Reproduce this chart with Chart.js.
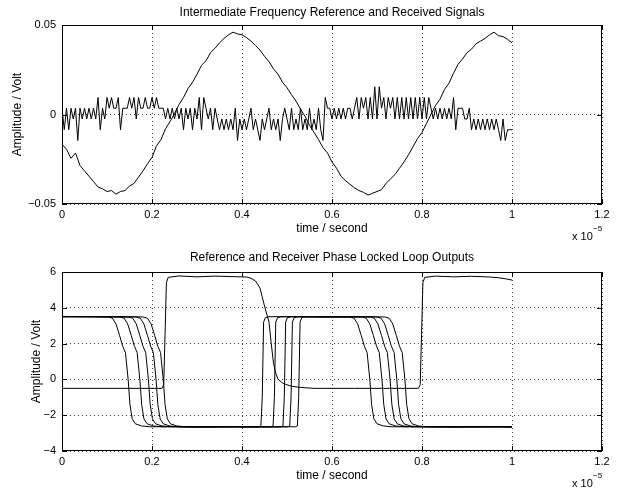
<!DOCTYPE html>
<html>
<head>
<meta charset="utf-8">
<script src="https://cdn.jsdelivr.net/npm/chart.js@4/dist/chart.umd.min.js"></script>
<style>
  html, body { margin: 0; padding: 0; background: #fff; }
  canvas { display: block; }
</style>
</head>
<body>
<canvas id="ifChart" width="623" height="246"></canvas>
<canvas id="pllChart" width="623" height="245"></canvas>
<script>
// all times are in units of 1e-5 s

// IF reference, sampled every 0.01
const ifStep = 0.01;
const ifRef = [
  -0.0165, -0.0195, -0.0245, -0.0215, -0.0285, -0.0315, -0.0345, -0.0375, -0.0405, -0.0415,
  -0.0430, -0.0425, -0.0445, -0.0430, -0.0425, -0.0400, -0.0385, -0.0350, -0.0315, -0.0275,
  -0.0240, -0.0175, -0.0140, -0.0080, -0.0040, 0.0005, 0.0055, 0.0095, 0.0145, 0.0180,
  0.0225, 0.0275, 0.0300, 0.0345, 0.0370, 0.0400, 0.0425, 0.0445, 0.0460, 0.0450,
  0.0445, 0.0430, 0.0410, 0.0385, 0.0360, 0.0325, 0.0295, 0.0255, 0.0225, 0.0180,
  0.0150, 0.0110, 0.0075, 0.0030, -0.0010, -0.0060, -0.0100, -0.0140, -0.0185, -0.0215,
  -0.0265, -0.0300, -0.0345, -0.0370, -0.0390, -0.0410, -0.0425, -0.0435, -0.0450, -0.0440,
  -0.0430, -0.0420, -0.0385, -0.0360, -0.0335, -0.0300, -0.0265, -0.0225, -0.0180, -0.0135,
  -0.0100, -0.0050, 0.0000, 0.0050, 0.0085, 0.0140, 0.0175, 0.0230, 0.0280, 0.0310,
  0.0345, 0.0365, 0.0395, 0.0410, 0.0425, 0.0445, 0.0460, 0.0440, 0.0435, 0.0420,
  0.0400
];

// received (quantised) signal, sampled every 0.005
const rxStep = 0.005;
const ifRx = [
  0.0035, -0.0085, 0.0035, -0.0085, 0.0035, -0.0025, 0.0035, -0.0145, 0.0035, -0.0025,
  0.0035, -0.0025, 0.0035, -0.0025, 0.0035, -0.0025, 0.0095, -0.0085, 0.0035, -0.0025,
  0.0095, 0.0035, 0.0095, 0.0035, 0.0035, 0.0095, -0.0085, 0.0035, 0.0035, 0.0035,
  0.0095, 0.0035, 0.0095, -0.0025, 0.0095, 0.0035, 0.0035, 0.0095, 0.0035, 0.0035,
  0.0095, 0.0035, 0.0095, 0.0035, 0.0035, 0.0035, -0.0025, 0.0035, -0.0025, 0.0035,
  -0.0025, 0.0035, -0.0025, 0.0035, -0.0085, 0.0035, -0.0025, 0.0035, -0.0085, 0.0035,
  -0.0025, 0.0095, -0.0085, 0.0095, 0.0035, -0.0025, 0.0035, -0.0085, 0.0035, -0.0025,
  -0.0085, -0.0025, -0.0085, -0.0025, -0.0085, -0.0025, -0.0085, 0.0035, -0.0145, -0.0025,
  -0.0085, -0.0025, -0.0085, -0.0025, 0.0035, -0.0085, -0.0025, -0.0085, -0.0145, -0.0025,
  -0.0085, -0.0025, 0.0035, -0.0085, -0.0025, -0.0085, -0.0025, -0.0145, -0.0025, 0.0035,
  -0.0025, -0.0085, 0.0035, -0.0085, -0.0025, -0.0085, 0.0035, -0.0085, -0.0025, -0.0085,
  0.0035, -0.0085, -0.0025, -0.0085, 0.0035, -0.0085, -0.0145, 0.0095, 0.0035, 0.0035,
  -0.0025, 0.0035, -0.0025, 0.0035, -0.0025, 0.0035, -0.0025, 0.0035, 0.0035, -0.0025,
  0.0035, 0.0095, -0.0025, 0.0095, 0.0035, 0.0095, -0.0025, 0.0095, -0.0025, 0.0155,
  -0.0025, 0.0155, 0.0035, 0.0095, -0.0025, 0.0095, 0.0035, 0.0095, -0.0025, 0.0095,
  -0.0025, 0.0095, -0.0025, 0.0095, -0.0025, 0.0095, -0.0025, 0.0095, -0.0025, 0.0095,
  -0.0025, 0.0095, -0.0025, 0.0095, 0.0035, -0.0025, 0.0035, -0.0025, 0.0035, -0.0025,
  0.0035, -0.0025, 0.0035, -0.0025, 0.0095, -0.0085, 0.0035, 0.0035, 0.0035, -0.0025,
  -0.0025, 0.0035, -0.0085, -0.0025, -0.0085, -0.0025, -0.0085, -0.0025, -0.0085, -0.0025,
  -0.0085, -0.0025, -0.0085, -0.0025, -0.0085, -0.0145, -0.0025, -0.0145, -0.0085, -0.0085,
  -0.0085
];

// PLL outputs: reference loop and five receiver loops
const refT = [0, 0.1, 0.222, 0.226, 0.229, 0.232, 0.236, 0.26, 0.3, 0.34, 0.38, 0.41, 0.42, 0.43, 0.44, 0.445, 0.45, 0.46, 0.465, 0.47,
  0.475, 0.48, 0.49, 0.5, 0.51, 0.53, 0.56, 0.65, 0.792, 0.796, 0.799, 0.802, 0.806, 0.83, 0.87, 0.91, 0.95, 0.97, 0.99, 1.0];
const refV = [-0.5, -0.5, -0.5, -0.3, 2.5, 5.4, 5.7, 5.78, 5.73, 5.77, 5.74, 5.72, 5.65, 5.5, 5.1, 4.6, 4.1, 3.2, 2.0, 0.9,
  0.35, 0.0, -0.2, -0.3, -0.38, -0.45, -0.5, -0.5, -0.5, -0.3, 2.5, 5.4, 5.7, 5.77, 5.73, 5.76, 5.72, 5.68, 5.6, 5.55];

const rx1T = [0, 0.05, 0.102, 0.112, 0.12, 0.128, 0.135, 0.141, 0.147, 0.151, 0.156, 0.163, 0.177, 0.197, 0.25, 0.3, 0.35, 0.4, 0.438, 0.442,
  0.445, 0.448, 0.452, 0.46, 0.52, 0.58, 0.639, 0.649, 0.657, 0.665, 0.672, 0.678, 0.684, 0.688, 0.693, 0.7, 0.714, 0.734, 0.8, 0.86, 0.93, 1.0];
const rx1V = [3.52, 3.5, 3.49, 3.42, 3.1, 2.45, 1.85, 1.5, 0.0, -1.4, -2.2, -2.48, -2.6, -2.65, -2.63, -2.66, -2.64, -2.66, -2.65, -2.6,
  -1.0, 3.2, 3.45, 3.5, 3.51, 3.49, 3.49, 3.42, 3.1, 2.45, 1.85, 1.5, 0.0, -1.4, -2.2, -2.48, -2.6, -2.65, -2.63, -2.66, -2.64, -2.66];

const rx2T = [0, 0.06, 0.128, 0.138, 0.146, 0.154, 0.161, 0.167, 0.173, 0.177, 0.182, 0.189, 0.203, 0.223, 0.27, 0.33, 0.39, 0.43, 0.465, 0.469,
  0.472, 0.475, 0.479, 0.487, 0.54, 0.6, 0.666, 0.676, 0.684, 0.692, 0.699, 0.705, 0.711, 0.715, 0.72, 0.727, 0.741, 0.761, 0.82, 0.88, 0.94, 1.0];
const rx2V = [3.51, 3.5, 3.49, 3.42, 3.1, 2.45, 1.85, 1.5, 0.0, -1.4, -2.2, -2.48, -2.6, -2.65, -2.64, -2.66, -2.63, -2.66, -2.65, -2.6,
  -1.0, 3.2, 3.45, 3.5, 3.5, 3.49, 3.49, 3.42, 3.1, 2.45, 1.85, 1.5, 0.0, -1.4, -2.2, -2.48, -2.6, -2.65, -2.64, -2.66, -2.63, -2.65];

const rx3T = [0, 0.07, 0.147, 0.157, 0.165, 0.173, 0.18, 0.186, 0.192, 0.196, 0.201, 0.208, 0.222, 0.242, 0.29, 0.35, 0.41, 0.45, 0.487, 0.491,
  0.494, 0.497, 0.501, 0.509, 0.56, 0.62, 0.684, 0.694, 0.702, 0.71, 0.717, 0.723, 0.729, 0.733, 0.738, 0.745, 0.759, 0.779, 0.84, 0.9, 0.96, 1.0];
const rx3V = [3.5, 3.51, 3.49, 3.42, 3.1, 2.45, 1.85, 1.5, 0.0, -1.4, -2.2, -2.48, -2.6, -2.65, -2.66, -2.64, -2.66, -2.64, -2.65, -2.6,
  -1.0, 3.2, 3.45, 3.5, 3.51, 3.5, 3.49, 3.42, 3.1, 2.45, 1.85, 1.5, 0.0, -1.4, -2.2, -2.48, -2.6, -2.65, -2.66, -2.64, -2.66, -2.64];

const rx4T = [0, 0.08, 0.164, 0.174, 0.182, 0.19, 0.197, 0.203, 0.209, 0.213, 0.218, 0.225, 0.239, 0.259, 0.31, 0.37, 0.43, 0.47, 0.502, 0.506,
  0.509, 0.512, 0.516, 0.524, 0.58, 0.64, 0.699, 0.709, 0.717, 0.725, 0.732, 0.738, 0.744, 0.748, 0.753, 0.76, 0.774, 0.794, 0.85, 0.91, 0.97, 1.0];
const rx4V = [3.51, 3.5, 3.49, 3.42, 3.1, 2.45, 1.85, 1.5, 0.0, -1.4, -2.2, -2.48, -2.6, -2.65, -2.64, -2.66, -2.63, -2.66, -2.65, -2.6,
  -1.0, 3.2, 3.45, 3.5, 3.5, 3.51, 3.49, 3.42, 3.1, 2.45, 1.85, 1.5, 0.0, -1.4, -2.2, -2.48, -2.6, -2.65, -2.64, -2.66, -2.64, -2.66];

const rx5T = [0, 0.09, 0.18, 0.19, 0.198, 0.206, 0.213, 0.219, 0.225, 0.229, 0.234, 0.241, 0.255, 0.275, 0.33, 0.39, 0.45, 0.49, 0.519, 0.523,
  0.526, 0.529, 0.533, 0.541, 0.6, 0.66, 0.717, 0.727, 0.735, 0.743, 0.75, 0.756, 0.762, 0.766, 0.771, 0.778, 0.792, 0.812, 0.87, 0.93, 0.97, 1.0];
const rx5V = [3.5, 3.51, 3.49, 3.42, 3.1, 2.45, 1.85, 1.5, 0.0, -1.4, -2.2, -2.48, -2.6, -2.65, -2.66, -2.64, -2.66, -2.64, -2.65, -2.6,
  -1.0, 3.2, 3.45, 3.5, 3.49, 3.5, 3.49, 3.42, 3.1, 2.45, 1.85, 1.5, 0.0, -1.4, -2.2, -2.48, -2.6, -2.65, -2.64, -2.66, -2.64, -2.65];

const xTicks = [0, 0.2, 0.4, 0.6, 0.8, 1, 1.2];

const FONT = '"Liberation Sans", Arial, Helvetica, sans-serif';
Chart.defaults.font.family = FONT;
Chart.defaults.font.size = 11;
Chart.defaults.color = '#000';

const minus = s => String(s).replace('-', '\u2212');

// box round the axes, inward tick marks and the x 10^-5 multiplier
const axesBox = {
  id: 'axesBox',
  afterDraw(chart) {
    const { ctx, chartArea: a, scales: { x, y } } = chart;
    ctx.save();
    ctx.strokeStyle = '#000';
    ctx.lineWidth = 1;
    ctx.strokeRect(a.left + 0.5, a.top + 0.5, a.right - a.left - 1, a.bottom - a.top - 1);
    ctx.beginPath();
    x.ticks.forEach(t => {
      const px = Math.round(x.getPixelForValue(t.value)) + 0.5;
      ctx.moveTo(px, a.bottom); ctx.lineTo(px, a.bottom - 5);
      ctx.moveTo(px, a.top); ctx.lineTo(px, a.top + 5);
    });
    y.ticks.forEach(t => {
      const py = Math.round(y.getPixelForValue(t.value)) + 0.5;
      ctx.moveTo(a.left, py); ctx.lineTo(a.left + 5, py);
      ctx.moveTo(a.right, py); ctx.lineTo(a.right - 5, py);
    });
    ctx.stroke();
    ctx.fillStyle = '#000';
    ctx.textBaseline = 'alphabetic';
    ctx.textAlign = 'left';
    ctx.font = '11px ' + FONT;
    ctx.fillText('x 10', a.right - 30, a.bottom + 36);
    ctx.font = '8px ' + FONT;
    ctx.fillText('\u22125', a.right - 9, a.bottom + 27);
    ctx.restore();
  }
};

function line(points) {
  return { data: points, borderColor: '#000', borderWidth: 1, pointRadius: 0, tension: 0, fill: false };
}

function pairs(ts, vs) {
  return vs.map((v, i) => ({ x: ts[i], y: v }));
}

function makeOptions(title, titlePad, yMin, yMax, yStep, yFmt, xFit, yTitlePad, xTitlePad) {
  return {
    responsive: false,
    animation: false,
    devicePixelRatio: 1,
    layout: { padding: { left: 0, right: 21, top: 0, bottom: 0 } },
    plugins: {
      legend: { display: false },
      tooltip: { enabled: false },
      // centred over the plot box rather than the whole canvas
      title: { display: true, fullSize: false, text: title, font: { size: 12, weight: 'normal' }, padding: titlePad }
    },
    scales: {
      x: {
        type: 'linear', min: 0, max: 1.2,
        afterBuildTicks: s => { s.ticks = xTicks.map(v => ({ value: v })); },
        afterFit: s => { s.height = xFit; },
        ticks: { padding: 4, callback: v => String(+v.toFixed(1)) },
        grid: { color: 'rgba(0,0,0,0.75)', drawTicks: false, lineWidth: 1 },
        border: { display: false, dash: [1, 3] },
        title: { display: true, text: 'time / second', font: { size: 12 }, padding: { top: 0, bottom: xTitlePad } }
      },
      y: {
        min: yMin, max: yMax,
        ticks: { stepSize: yStep, padding: 6, callback: yFmt },
        afterFit: s => { s.width = 62; },
        grid: { color: 'rgba(0,0,0,0.75)', drawTicks: false, lineWidth: 1 },
        border: { display: false, dash: [1, 3] },
        title: { display: true, text: 'Amplitude / Volt', font: { size: 12 }, padding: { top: yTitlePad, bottom: 0 } }
      }
    }
  };
}

new Chart(document.getElementById('ifChart'), {
  type: 'line',
  data: {
    datasets: [
      line(ifRef.map((v, i) => ({ x: i * ifStep, y: v }))),
      line(ifRx.map((v, i) => ({ x: i * rxStep, y: v })))
    ]
  },
  options: makeOptions('Intermediate Frequency Reference and Received Signals',
    { top: 5.8, bottom: 4.8 }, -0.05, 0.05, 0.05,
    v => minus(+v.toFixed(2)), 42, 10.8, 9.8),
  plugins: [axesBox]
});

new Chart(document.getElementById('pllChart'), {
  type: 'line',
  data: {
    datasets: [
      line(pairs(refT, refV)),
      line(pairs(rx1T, rx1V)),
      line(pairs(rx2T, rx2V)),
      line(pairs(rx3T, rx3V)),
      line(pairs(rx4T, rx4V)),
      line(pairs(rx5T, rx5V))
    ]
  },
  options: makeOptions('Reference and Receiver Phase Locked Loop Outputs',
    { top: 4.8, bottom: 6.8 }, -4, 6, 2,
    v => minus(v), 40, 29.8, 7.8),
  plugins: [axesBox]
});
</script>
</body>
</html>
